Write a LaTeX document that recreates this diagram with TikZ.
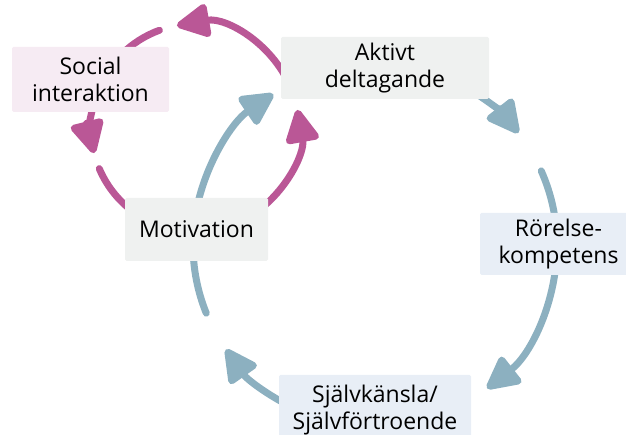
\documentclass[tikz,border=0pt]{standalone}
\usepackage{fontspec}
\setmainfont{Open Sans}
\usetikzlibrary{arrows.meta,backgrounds}
\definecolor{pinkline}{HTML}{BA5796}
\definecolor{blueline}{HTML}{8CB0C0}
\definecolor{pinkfill}{HTML}{F6EBF3}
\definecolor{grayfill}{HTML}{EFF1F0}
\definecolor{bluefill}{HTML}{E8EEF6}

\begin{document}
\begin{tikzpicture}[x=1pt,y=1pt,
  box/.style={rectangle,rounded corners=1.5pt,inner sep=0pt,align=center,
    font=\fontsize{23}{27}\selectfont},
  loop/.style={line width=7pt,line cap=round},
  tip/.style={-{Triangle[length=37pt,width=36pt,line join=round]}}]
\clip (0,0) rectangle (626,435);
\coordinate (blue c) at (375,190);
\coordinate (pink c) at (195,307);
\node (social) at (90.5,355.5) [box,fill=pinkfill,minimum width=157pt,minimum height=65pt] {Social\\interaktion};
\node (aktivt) at (385,367) [box,fill=grayfill,minimum width=208pt,minimum height=62pt] {Aktivt\\deltagande};
\node (motivation) at (196.5,205.5) [box,fill=grayfill,minimum width=143pt,minimum height=63pt] {Motivation};
\node (rorelse) at (558.5,191) [box,fill=bluefill,minimum width=157pt,minimum height=62pt] {Rörelse-\\kompetens};
\node (sjalv) at (375,25) [box,fill=bluefill,minimum width=192pt,minimum height=70pt] {Självkänsla/\\Självförtroende};

\begin{scope}[on background layer]
\draw[loop,blueline,tip] ([shift={(170:182pt)}]blue c) arc[start angle=170,end angle=124,radius=182pt];
\draw[loop,blueline,tip] ([shift={(60:182pt)}]blue c) arc[start angle=60,end angle=38,radius=182pt];
\draw[loop,blueline] ([shift={(24:182pt)}]blue c) arc[start angle=24,end angle=0,radius=182pt];
\draw[loop,blueline,tip] ([shift={(0:182pt)}]blue c) arc[start angle=0,end angle=-52,radius=182pt];
\draw[loop,blueline,tip] ([shift={(-110:182pt)}]blue c) arc[start angle=-110,end angle=-145,radius=182pt];
\draw[loop,blueline] ([shift={(-158:182pt)}]blue c) arc[start angle=-158,end angle=-180,radius=182pt];

\draw[loop,pinkline,tip] ([shift={(20:104pt)}]pink c) arc[start angle=20,end angle=100,radius=104pt];
\draw[loop,pinkline] ([shift={(110:104pt)}]pink c) arc[start angle=110,end angle=135,radius=104pt];
\draw[loop,pinkline,tip] ([shift={(160:104pt)}]pink c) arc[start angle=160,end angle=194,radius=104pt];
\draw[loop,pinkline] ([shift={(203:104pt)}]pink c) arc[start angle=203,end angle=240,radius=104pt];
\draw[loop,pinkline,tip] ([shift={(300:104pt)}]pink c) arc[start angle=300,end angle=370,radius=104pt];
\end{scope}
\end{tikzpicture}
\end{document}
